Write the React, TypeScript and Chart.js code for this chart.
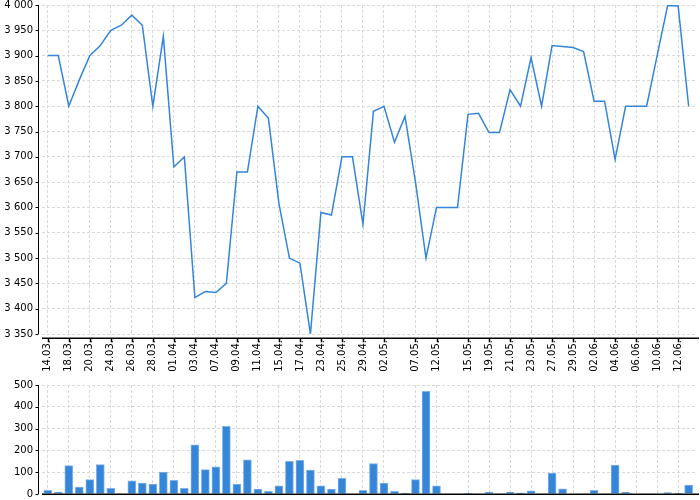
import { useEffect, useRef } from "react"
import { Chart, registerables } from "chart.js"

Chart.register(...registerables)

// trading days 14.03. – 13.06.
const dates = [
  "14.03.", "17.03.", "18.03.", "19.03.", "20.03.", "21.03.", "24.03.", "25.03.", "26.03.", "27.03.",
  "28.03.", "31.03.", "01.04.", "02.04.", "03.04.", "04.04.", "07.04.", "08.04.", "09.04.", "10.04.",
  "11.04.", "14.04.", "15.04.", "16.04.", "17.04.", "22.04.", "23.04.", "24.04.", "25.04.", "28.04.",
  "29.04.", "30.04.", "02.05.", "05.05.", "06.05.", "07.05.", "09.05.", "12.05.", "13.05.", "14.05.",
  "15.05.", "16.05.", "19.05.", "20.05.", "21.05.", "22.05.", "23.05.", "26.05.", "27.05.", "28.05.",
  "29.05.", "30.05.", "02.06.", "03.06.", "04.06.", "05.06.", "06.06.", "09.06.", "10.06.", "11.06.",
  "12.06.", "13.06.",
]

// dates that get a label and a vertical grid line
const labelledDates = [
  "14.03.", "18.03.", "20.03.", "24.03.", "26.03.", "28.03.", "01.04.", "03.04.", "07.04.", "09.04.",
  "11.04.", "15.04.", "17.04.", "23.04.", "25.04.", "29.04.", "02.05.", "07.05.", "12.05.", "15.05.",
  "19.05.", "21.05.", "23.05.", "27.05.", "29.05.", "02.06.", "04.06.", "06.06.", "10.06.", "12.06.",
]

const prices = [
  3900, 3900, 3800, 3852, 3900, 3920, 3950, 3960, 3980, 3960,
  3800, 3938, 3680, 3700, 3422, 3434, 3432, 3450, 3670, 3670,
  3800, 3776, 3608, 3500, 3490, 3350, 3590, 3585, 3700, 3700,
  3567, 3790, 3800, 3729, 3780, 3650, 3500, 3600, 3600, 3600,
  3784, 3786, 3748, 3748, 3833, 3800, 3896, 3800, 3920, 3918,
  3916, 3908, 3810, 3810, 3695, 3800, 3800, 3800, 3900, 3999,
  3998, 3800,
]

const volumes = [
  17, 9, 130, 32, 66, 135, 26, 0, 60, 50,
  46, 101, 63, 26, 225, 112, 125, 310, 46, 157,
  23, 12, 37, 150, 154, 110, 37, 23, 72, 0,
  17, 139, 50, 12, 4, 66, 471, 37, 0, 0,
  3, 2, 9, 0, 8, 5, 14, 2, 96, 24,
  0, 0, 17, 0, 133, 8, 0, 0, 0, 7,
  4, 41,
]

const BLUE = "#3585d8"
const GRID = "#d9d9d9"
const FONT = { family: "'DejaVu Sans', sans-serif", size: 10, lineHeight: 1 }

const fmt = (v: number) => String(v).replace(/\B(?=(\d{3})+(?!\d))/g, " ")

// axis lines drawn a few pixels away from the plot, like the original
function makeAxesPlugin(gap: number, xTicks: boolean) {
  return {
    id: "offsetAxes",
    afterDraw(chart: Chart) {
      const { ctx, chartArea: a, scales } = chart
      ctx.save()
      ctx.strokeStyle = "#000"
      ctx.lineWidth = 1
      ctx.beginPath()
      const yx = a.left - 3.5
      ctx.moveTo(yx, a.top)
      ctx.lineTo(yx, a.bottom)
      scales.y.ticks.forEach((t) => {
        const py = Math.round(scales.y.getPixelForValue(t.value)) + 0.5
        ctx.moveTo(yx - 3, py)
        ctx.lineTo(yx, py)
      })
      ctx.stroke()
      ctx.lineWidth = 1.5
      ctx.beginPath()
      const xy = Math.round(a.bottom + gap) + 0.25
      ctx.moveTo(a.left, xy)
      ctx.lineTo(a.right + 3, xy)
      if (xTicks) {
        scales.x.ticks.forEach((t) => {
          const px = Math.round(scales.x.getPixelForValue(t.value)) + 0.5
          ctx.moveTo(px, xy)
          ctx.lineTo(px, xy + 4)
        })
      }
      ctx.stroke()
      ctx.restore()
    },
  }
}

function xScale(showLabels: boolean, height: number) {
  return {
    type: "linear" as const,
    min: -0.55,
    max: 61.7,
    offset: false,
    afterBuildTicks: (scale: any) => {
      scale.ticks = labelledDates.map((d) => ({ value: dates.indexOf(d) }))
    },
    afterFit: (scale: any) => {
      scale.height = height
      scale.paddingLeft = 0
      scale.paddingRight = 0
    },
    border: { display: false, dash: [3, 2] },
    grid: { color: GRID, drawTicks: false, offset: false },
    ticks: {
      display: showLabels,
      autoSkip: false,
      minRotation: 90,
      maxRotation: 90,
      padding: 6,
      color: "#000",
      font: FONT,
      callback: (v: number | string) => dates[Number(v)],
    },
  }
}

function yScale(min: number, max: number, step: number) {
  return {
    min,
    max,
    afterFit: (scale: any) => {
      scale.width = 42
      scale.paddingTop = 0
      scale.paddingBottom = 0
    },
    border: { display: false, dash: [3, 2] },
    grid: { color: GRID, drawTicks: false },
    ticks: {
      stepSize: step,
      padding: 9,
      color: "#000",
      font: FONT,
      callback: (v: number | string) => fmt(Number(v)),
    },
  }
}

function PriceChart() {
  const chartRef = useRef<HTMLCanvasElement>(null)
  const chartInstance = useRef<Chart | null>(null)

  useEffect(() => {
    if (!chartRef.current) return
    if (chartInstance.current) chartInstance.current.destroy()

    chartInstance.current = new Chart(chartRef.current, {
      type: "line",
      data: {
        datasets: [
          {
            data: prices.map((p, i) => ({ x: i, y: p })),
            borderColor: BLUE,
            borderWidth: 1.5,
            pointRadius: 0,
            tension: 0,
          },
        ],
      },
      options: {
        animation: false,
        responsive: true,
        maintainAspectRatio: false,
        layout: { padding: { top: 5, right: 4, left: 0, bottom: 0 } },
        plugins: { legend: { display: false }, tooltip: { enabled: false } },
        scales: {
          x: xScale(true, 42),
          y: yScale(3350, 4000, 50),
        },
      },
      plugins: [makeAxesPlugin(4, true)],
    })

    return () => {
      if (chartInstance.current) {
        chartInstance.current.destroy()
        chartInstance.current = null
      }
    }
  }, [])

  return <canvas ref={chartRef} />
}

function VolumeChart() {
  const chartRef = useRef<HTMLCanvasElement>(null)
  const chartInstance = useRef<Chart | null>(null)

  useEffect(() => {
    if (!chartRef.current) return
    if (chartInstance.current) chartInstance.current.destroy()

    chartInstance.current = new Chart(chartRef.current, {
      type: "bar",
      data: {
        datasets: [
          {
            data: volumes.map((v, i) => ({ x: i, y: v })),
            backgroundColor: BLUE,
            borderColor: "rgba(130, 178, 232, 1)",
            borderWidth: { top: 1, left: 1, right: 1, bottom: 0 },
            barThickness: 8,
          },
        ],
      },
      options: {
        animation: false,
        responsive: true,
        maintainAspectRatio: false,
        layout: { padding: { top: 9, right: 4, left: 0, bottom: 6 } },
        plugins: { legend: { display: false }, tooltip: { enabled: false } },
        scales: {
          x: xScale(false, 0),
          y: yScale(0, 500, 100),
        },
      },
      plugins: [makeAxesPlugin(0, false)],
    })

    return () => {
      if (chartInstance.current) {
        chartInstance.current.destroy()
        chartInstance.current = null
      }
    }
  }, [])

  return <canvas ref={chartRef} />
}

export default function App() {
  useEffect(() => {
    document.body.style.margin = "0"
  }, [])

  return (
    <div style={{ position: "relative", width: 700, height: 500, background: "#fff" }}>
      <div style={{ position: "absolute", left: 0, top: 0, width: 700, height: 376 }}>
        <PriceChart />
      </div>
      <div style={{ position: "absolute", left: 0, top: 376, width: 700, height: 124 }}>
        <VolumeChart />
      </div>
    </div>
  )
}
